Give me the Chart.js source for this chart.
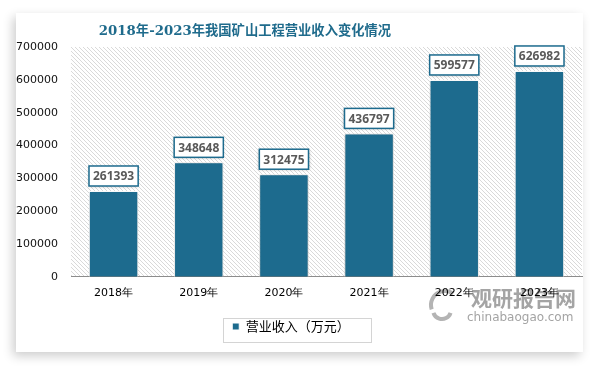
<!DOCTYPE html>
<html>
<head>
<meta charset="utf-8">
<script src="https://cdn.jsdelivr.net/npm/chart.js@4.4.1/dist/chart.umd.min.js"></script>
<style>
  html, body { margin: 0; padding: 0; background: #fff; }
  #card { position: absolute; left: 16px; top: 13px; width: 567px; height: 339px; background: #fff;
          box-shadow: -3px 4px 10px rgba(0,0,0,0.2); }
  #wrap { position: absolute; left: 0; top: 0; width: 594px; height: 366px; }
</style>
</head>
<body>
<div id="card"></div>
<div id="wrap"><canvas id="chart" width="594" height="366"></canvas></div>
<script>
// chart data
const categories = ['2018年', '2019年', '2020年', '2021年', '2022年', '2023年'];
const revenue = [261393, 348648, 312475, 436797, 599577, 626982];
const seriesName = '营业收入（万元）';
const titleText = '2018年-2023年我国矿山工程营业收入变化情况';
const yMax = 700000;
const yStep = 100000;

const barColor = '#1d6b8e';
const titleColor = '#1f6b8c';

// diagonal hatch for the plot background
function makeHatch() {
    let c = document.createElement('canvas');
    c.width = 4;
    c.height = 4;
    let g = c.getContext('2d');
    g.fillStyle = '#d9d9d9';
    // one pixel per row, shifted by one each row
    for (let r = 0; r < 4; r++) {
        g.fillRect(r, r, 1, 1);
    }
    return g.createPattern(c, 'repeat');
}

// background, title and watermark
const backPlugin = {
    id: 'back',
    beforeDraw(chart) {
        const ctx = chart.ctx;
        const a = chart.chartArea;
        ctx.save();
        ctx.fillStyle = makeHatch();
        ctx.fillRect(a.left, a.top, a.right - a.left, a.bottom - a.top);

        // title
        ctx.fillStyle = titleColor;
        ctx.font = 'bold 13.3px "DejaVu Serif", "Noto Sans CJK SC", serif';
        ctx.textAlign = 'center';
        ctx.textBaseline = 'middle';
        ctx.fillText(titleText, 245, 32);

        // watermark
        ctx.fillStyle = '#a4a4a4';
        ctx.font = 'bold 21px "Noto Sans CJK SC", sans-serif';
        ctx.textAlign = 'left';
        ctx.fillText('观研报告网', 471, 298);
        ctx.font = '12px "DejaVu Sans", sans-serif';
        ctx.fillText('chinabaogao.com', 467, 318);
        ctx.strokeStyle = '#b4b4b4';
        ctx.lineWidth = 4;
        ctx.beginPath();
        ctx.arc(445, 305, 14, Math.PI * 0.9, Math.PI * 1.7);
        ctx.stroke();
        ctx.beginPath();
        ctx.arc(442, 310, 9, Math.PI * 0.1, Math.PI * 0.9);
        ctx.stroke();
        ctx.restore();
    },
    beforeDatasetsDraw(chart) {
        const ctx = chart.ctx;
        ctx.save();
        ctx.shadowColor = 'rgba(0,0,0,0.3)';
        ctx.shadowBlur = 3;
        ctx.shadowOffsetX = 0;
        ctx.shadowOffsetY = 1;
    },
    afterDatasetsDraw(chart) {
        const ctx = chart.ctx;
        // value boxes above the bars
        const meta = chart.getDatasetMeta(0);
        ctx.font = 'bold 12px "Open Sans", sans-serif';
        meta.data.forEach(function (bar, i) {
            let txt = String(revenue[i]);
            let w = ctx.measureText(txt).width + 8;
            let h = 20;
            ctx.fillStyle = '#fff';
            ctx.fillRect(bar.x - w / 2, bar.y - 5 - h, w, h);
        });
        ctx.restore();
        ctx.save();
        ctx.font = 'bold 12px "Open Sans", sans-serif';
        ctx.textAlign = 'center';
        ctx.textBaseline = 'middle';
        meta.data.forEach(function (bar, i) {
            let txt = String(revenue[i]);
            let w = ctx.measureText(txt).width + 8;
            let h = 20;
            let x = bar.x - w / 2;
            let y = bar.y - 5 - h;
            ctx.strokeStyle = barColor;
            ctx.lineWidth = 1.5;
            ctx.strokeRect(x, y, w, h);
            ctx.fillStyle = '#595959';
            ctx.fillText(txt, bar.x, y + h / 2 + 1);
        });
        ctx.restore();
    },
    afterDraw(chart) {
        // border round the legend
        const ctx = chart.ctx;
        ctx.save();
        ctx.strokeStyle = '#d4d4d4';
        ctx.lineWidth = 1;
        ctx.strokeRect(223.5, 318.5, 148, 24);
        ctx.restore();
    }
};

const chart = new Chart(document.getElementById('chart'), {
    type: 'bar',
    data: {
        labels: categories,
        datasets: [{
            label: seriesName,
            data: revenue,
            backgroundColor: barColor,
            borderColor: '#ffffff',
            borderWidth: 1,
            categoryPercentage: 1,
            barPercentage: 0.58
        }]
    },
    options: {
        responsive: false,
        animation: false,
        layout: { padding: { top: 47, right: 12, left: 0, bottom: 23 } },
        scales: {
            x: {
                grid: { display: false, drawTicks: false },
                border: { display: true, color: '#8c8c8c', width: 1 },
                ticks: { color: '#000', font: { family: 'DejaVu Sans', size: 11 }, padding: 10 }
            },
            y: {
                min: 0,
                max: yMax,
                afterFit: function (s) { s.width = 71; },
                grid: { display: false, drawTicks: false },
                border: { display: false },
                ticks: {
                    stepSize: yStep,
                    color: '#111',
                    font: { family: 'DejaVu Sans', size: 11 },
                    padding: 13,
                    callback: function (v) { return String(v); }
                }
            }
        },
        plugins: {
            title: { display: false },
            tooltip: { enabled: false },
            legend: {
                position: 'bottom',
                labels: {
                    boxWidth: 7,
                    boxHeight: 7,
                    color: '#000',
                    font: { family: '"Noto Sans CJK SC"', size: 13 },
                    padding: 10
                }
            }
        }
    },
    plugins: [backPlugin]
});
</script>
</body>
</html>
